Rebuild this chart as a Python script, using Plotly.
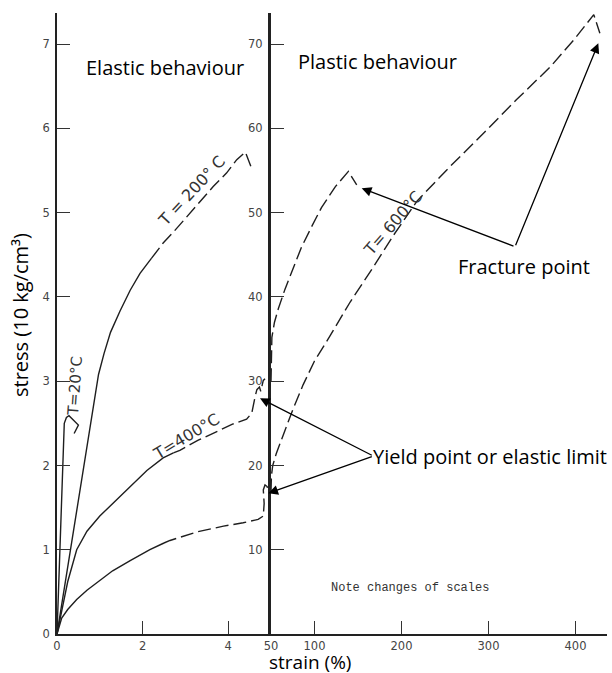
import plotly.graph_objects as go

# ---------------- data (left panel: strain 0-5 %, stress in 10 kg/cm^3) ----------------
t20_x = [0, 0.15, 0.17, 0.22, 0.28, 0.50, 0.40]
t20_y = [0, 2.40, 2.50, 2.57, 2.59, 2.48, 2.38]

t200_solid_x = [0, 0.50, 0.97, 1.10, 1.25, 1.47, 1.71, 1.94, 2.21]
t200_solid_y = [0, 1.58, 3.08, 3.33, 3.58, 3.83, 4.08, 4.28, 4.46]
t200_dash_x = [2.21, 2.48, 2.72, 3.03, 3.34, 3.65, 3.96, 4.20, 4.40, 4.53]
t200_dash_y = [4.46, 4.64, 4.77, 4.95, 5.13, 5.31, 5.47, 5.63, 5.72, 5.55]

t400_solid_x = [0, 0.25, 0.46, 0.70, 1.00, 1.35, 1.71, 2.10, 2.48, 2.72]
t400_solid_y = [0, 0.62, 1.00, 1.22, 1.40, 1.57, 1.74, 1.94, 2.09, 2.15]
t400_dash_x = [2.72, 2.87, 3.30, 3.81, 4.10, 4.43, 4.55, 4.63, 4.67, 4.73, 4.76, 4.82, 4.86]
t400_dash_y = [2.15, 2.18, 2.30, 2.42, 2.49, 2.55, 2.62, 2.82, 2.90, 2.93, 2.88, 3.01, 3.03]

t600_solid_x = [0, 0.11, 0.25, 0.46, 0.70, 0.93, 1.30, 1.71, 2.17, 2.50]
t600_solid_y = [0, 0.19, 0.29, 0.41, 0.52, 0.61, 0.75, 0.87, 1.00, 1.08]
t600_dash_x = [2.50, 2.64, 3.26, 3.89, 4.35, 4.70, 4.82, 4.84, 4.82, 4.86, 4.91, 4.93]
t600_dash_y = [1.08, 1.11, 1.21, 1.28, 1.32, 1.36, 1.40, 1.55, 1.71, 1.77, 1.75, 1.70]

# ---------------- data (right panel: strain 50-440 %, stress in kg/cm^3) ----------------
t400_plastic_x = [50, 50.4, 51, 54, 58.4, 66, 74, 85, 97, 108, 124, 139, 148.5]
t400_plastic_y = [30, 33, 35.2, 37.0, 38.6, 40.9, 43.1, 45.9, 48.4, 50.6, 53.1, 54.9, 53.3]

t600_plastic_x = [50, 50.5, 52, 56, 64, 75, 87, 100, 118, 141, 166, 192, 218, 256, 294, 332, 371, 398, 421, 428]
t600_plastic_y = [16.9, 18.8, 20.0, 21.4, 23.6, 26.6, 29.6, 32.4, 35.4, 39.4, 43.3, 47.5, 51.4, 55.5, 59.4, 63.4, 67.3, 70.5, 73.5, 71.3]

left_x_ticks = [0, 2, 4]
left_y_ticks = [0, 1, 2, 3, 4, 5, 6, 7]
right_x_ticks = [50, 100, 200, 300, 400]
right_y_ticks = [10, 20, 30, 40, 50, 60, 70]

# ---------------- layout geometry ----------------
W, H = 612, 673
ML, MR, MT, MB = 57, 5, 13, 39
PW, PH = W - ML - MR, H - MT - MB
SPLIT = (271 - ML) / PW


def paper(px, py):
    return (px - ML) / PW, (H - MB - py) / PH


LINE = "#1e1e1e"
DASH = "13px,5px"

fig = go.Figure()


def add(x, y, dash, panel):
    xa, ya = ("x", "y") if panel == 1 else ("x2", "y2")
    fig.add_trace(go.Scatter(x=x, y=y, mode="lines", xaxis=xa, yaxis=ya,
                             line=dict(color=LINE, width=1.4, dash=dash),
                             showlegend=False, hoverinfo="skip"))


add(t20_x, t20_y, "solid", 1)
add(t200_solid_x, t200_solid_y, "solid", 1)
add(t200_dash_x, t200_dash_y, DASH, 1)
add(t400_solid_x, t400_solid_y, "solid", 1)
add(t400_dash_x, t400_dash_y, DASH, 1)
add(t600_solid_x, t600_solid_y, "solid", 1)
add(t600_dash_x, t600_dash_y, DASH, 1)
add(t400_plastic_x, t400_plastic_y, DASH, 2)
add(t600_plastic_x, t600_plastic_y, DASH, 2)

tickfont = dict(family="DejaVu Sans", size=11.5, color="#444")
common = dict(showgrid=False, zeroline=False, showline=True, linecolor="#222",
              ticks="inside", ticklen=13, tickwidth=1.3, tickcolor="#333",
              tickfont=tickfont, tickmode="array", automargin=False)

fig.update_layout(
    width=W, height=H, margin=dict(l=ML, r=MR, t=MT, b=MB, autoexpand=False),
    plot_bgcolor="white", paper_bgcolor="white",
    xaxis=dict(domain=[0, SPLIT], range=[0, 5], tickvals=left_x_ticks,
               anchor="y", linewidth=2, **common),
    yaxis=dict(domain=[0, 1], range=[0, 7.37], tickvals=left_y_ticks,
               anchor="x", linewidth=1.5, ticklabelstandoff=3, **common),
    xaxis2=dict(domain=[SPLIT, 1], range=[50, 436.2], tickvals=right_x_ticks,
                anchor="y2", linewidth=2, **common),
    yaxis2=dict(domain=[0, 1], range=[0, 73.7], tickvals=right_y_ticks,
                anchor="x2", side="left", linewidth=3, ticklabelstandoff=3, **common),
)

ann = []


def text(s, px, py, size=20, family="Open Sans", angle=0, color="black", xanchor="center"):
    x, y = paper(px, py)
    ann.append(dict(text=s, x=x, y=y, xref="paper", yref="paper", showarrow=False,
                    textangle=angle, xanchor=xanchor, yanchor="middle", borderpad=0,
                    font=dict(family=family, size=size, color=color)))


def arrow(tip, tail):
    x, y = paper(*tip)
    ann.append(dict(text="", x=x, y=y, xref="paper", yref="paper", showarrow=True,
                    ax=tail[0] - tip[0], ay=tail[1] - tip[1], axref="pixel", ayref="pixel",
                    arrowhead=2, arrowsize=1.5, arrowwidth=1.3, arrowcolor="black", standoff=0))


text("Elastic behaviour", 165, 67)
text("Plastic behaviour", 377, 61)
text("Fracture point", 524, 266)
text("Yield point or elastic limit", 372, 456, xanchor="left")
text("Note changes of scales", 410, 588, size=12, family="Liberation Mono", color="#333")
text("stress (10 kg/cm³)", 20, 315, angle=-90)
text("strain (%)", 310, 662, size=19)

text("T=20°C", 75, 386, size=15, family="DejaVu Sans", angle=-86, color="#333")
text("T = 200° C", 191, 191, size=16, family="DejaVu Sans", angle=-47, color="#333")
text("T=400°C", 186, 436, size=16, family="DejaVu Sans", angle=-31, color="#333")
text("T= 600°C", 393, 224, size=16, family="DejaVu Sans", angle=-49, color="#333")

arrow((361.7, 188.3), (515, 246.7))
arrow((598.3, 43.3), (515, 246.7))
arrow((260, 398.3), (373.3, 456))
arrow((268.3, 493.3), (373.3, 456))

fig.update_layout(annotations=ann)
fig.write_html("out.html", config={"displayModeBar": False},
               post_script="document.body.style.margin='0';document.body.style.padding='0';"
                           "document.body.style.overflow='hidden';")
